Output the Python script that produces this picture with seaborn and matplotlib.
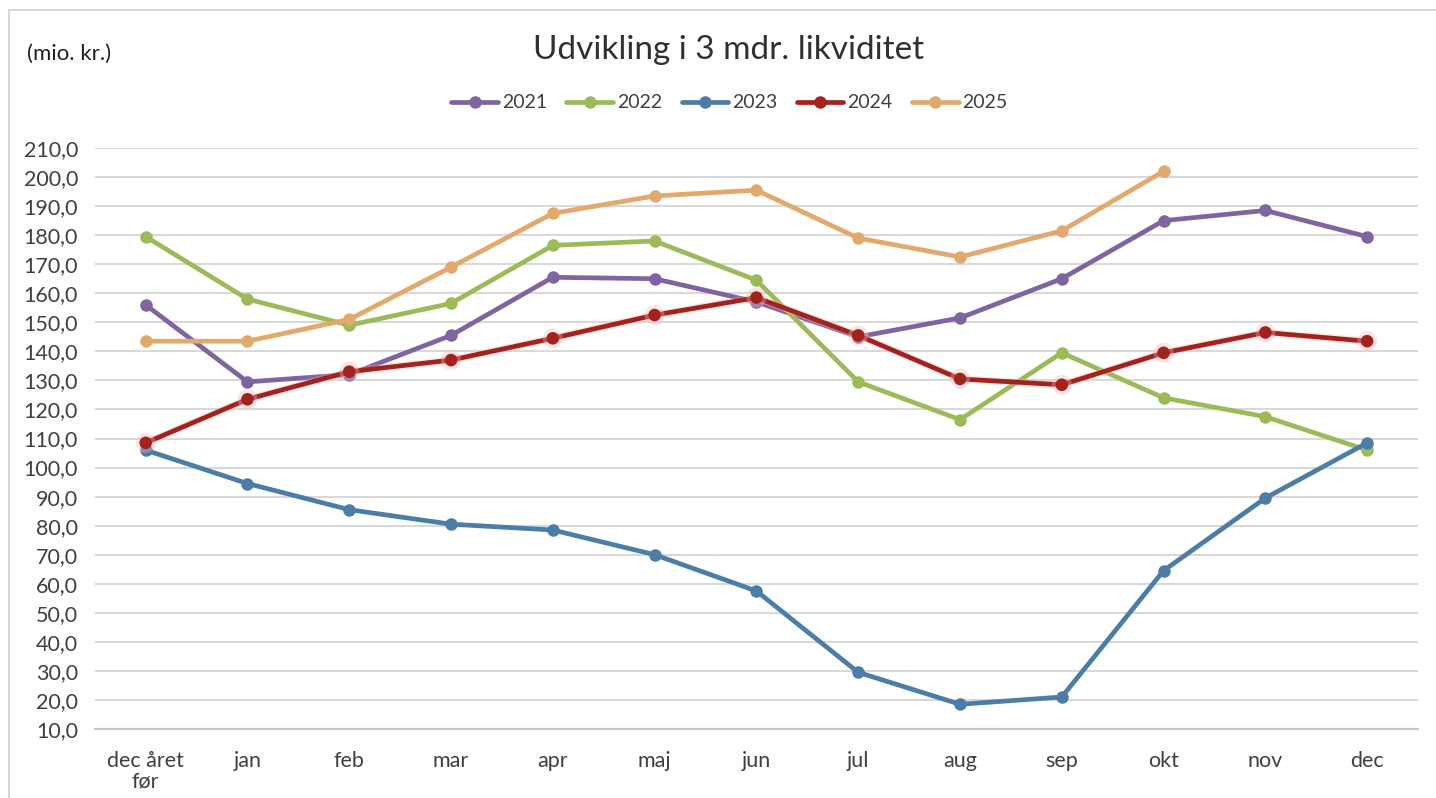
import numpy as np
import pandas as pd
import seaborn as sns
import matplotlib.pyplot as plt
import matplotlib.patheffects as pe
from matplotlib.ticker import FuncFormatter, MultipleLocator
from matplotlib.patches import Rectangle

# Months on the x axis
months = ["dec året\nfør", "jan", "feb", "mar", "apr", "maj", "jun",
          "jul", "aug", "sep", "okt", "nov", "dec"]

# Liquidity per year (mio. kr.)
y2021 = [156.0, 129.5, 132.0, 145.5, 165.5, 165.0, 157.0, 145.0, 151.5, 165.0, 185.0, 188.5, 179.5]
y2022 = [179.5, 158.0, 149.0, 156.5, 176.5, 178.0, 164.5, 129.5, 116.5, 139.5, 124.0, 117.5, 106.0]
y2023 = [106.0, 94.5, 85.5, 80.5, 78.5, 70.0, 57.5, 29.5, 18.5, 21.0, 64.5, 89.5, 108.5]
y2024 = [108.5, 123.5, 133.0, 137.0, 144.5, 152.5, 158.5, 145.5, 130.5, 128.5, 139.5, 146.5, 143.5]
y2025 = [143.5, 143.5, 151.0, 169.0, 187.5, 193.5, 195.5, 179.0, 172.5, 181.5, 202.0, np.nan, np.nan]

years = ["2021", "2022", "2023", "2024", "2025"]
colors = ["#8064A2", "#9BBB59", "#4C7DA8", "#A3221E", "#E2A86C"]

rows = []
for yr, vals in zip(years, [y2021, y2022, y2023, y2024, y2025]):
    for i, v in enumerate(vals):
        if not np.isnan(v):
            rows.append({"x": i, "value": v, "year": yr})
df = pd.DataFrame(rows)

sns.set_style("white")
plt.rcParams['font.family'] = ['Lato', 'DejaVu Sans']

fig = plt.figure(figsize=(14.36, 7.98), dpi=100)
ax = fig.add_axes([0.066, 0.0865, 0.9215, 0.728])

# light frame around the chart
fig.patches.append(Rectangle((0.006, -0.01), 1.2, 0.997, transform=fig.transFigure,
                             fill=False, edgecolor="#d0d0d0", linewidth=1.2))

sns.lineplot(data=df, x="x", y="value", hue="year", palette=colors,
             marker="o", markersize=9, markeredgewidth=0, linewidth=3.4,
             sort=False, legend=False, ax=ax)

# faint glow on the 2024 line like the original
ax.lines[3].set_path_effects([pe.Stroke(linewidth=5.5, foreground="#f4b9b9", alpha=0.35), pe.Normal()])
for ln in ax.lines:
    ln.set_solid_capstyle("round")

ax.set_xlim(-0.5, 12.5)
ax.set_ylim(10, 210)
ax.yaxis.set_major_locator(MultipleLocator(10))
ax.yaxis.set_major_formatter(FuncFormatter(lambda v, p: f"{v:.1f}".replace(".", ",")))
ax.set_xticks(range(len(months)))
ax.set_xticklabels(months, fontsize=15.5, color="#404040", linespacing=1.0)
ax.tick_params(axis="y", labelsize=15.5, labelcolor="#404040", length=0, pad=12)
ax.tick_params(axis="x", length=8, width=1, color="#c8c8c8", direction="out", pad=8)
ax.grid(axis="y", color="#d9d9d9", linewidth=1.5)
ax.set_axisbelow(True)
for s in ["top", "right", "left"]:
    ax.spines[s].set_visible(False)
ax.spines["bottom"].set_color("#c8c8c8")
ax.spines["bottom"].set_linewidth(1.5)
ax.set_xlabel("")
ax.set_ylabel("")

fig.text(0.5075, 0.937, "Udvikling i 3 mdr. likviditet", ha="center", va="center",
         fontsize=24, color="#303030")
fig.text(0.019, 0.932, "(mio. kr.)", ha="left", va="center", fontsize=16, color="#202020")

handles = [plt.Line2D([], [], color=c, marker="o", markersize=8, linewidth=3.4) for c in colors]
fig.legend(handles, years, loc="center", bbox_to_anchor=(0.508, 0.871), ncol=5,
           frameon=False, fontsize=14, handlelength=2.4, handletextpad=0.2,
           columnspacing=1.0, labelcolor="#404040")

fig.savefig("out.png", dpi=100)
